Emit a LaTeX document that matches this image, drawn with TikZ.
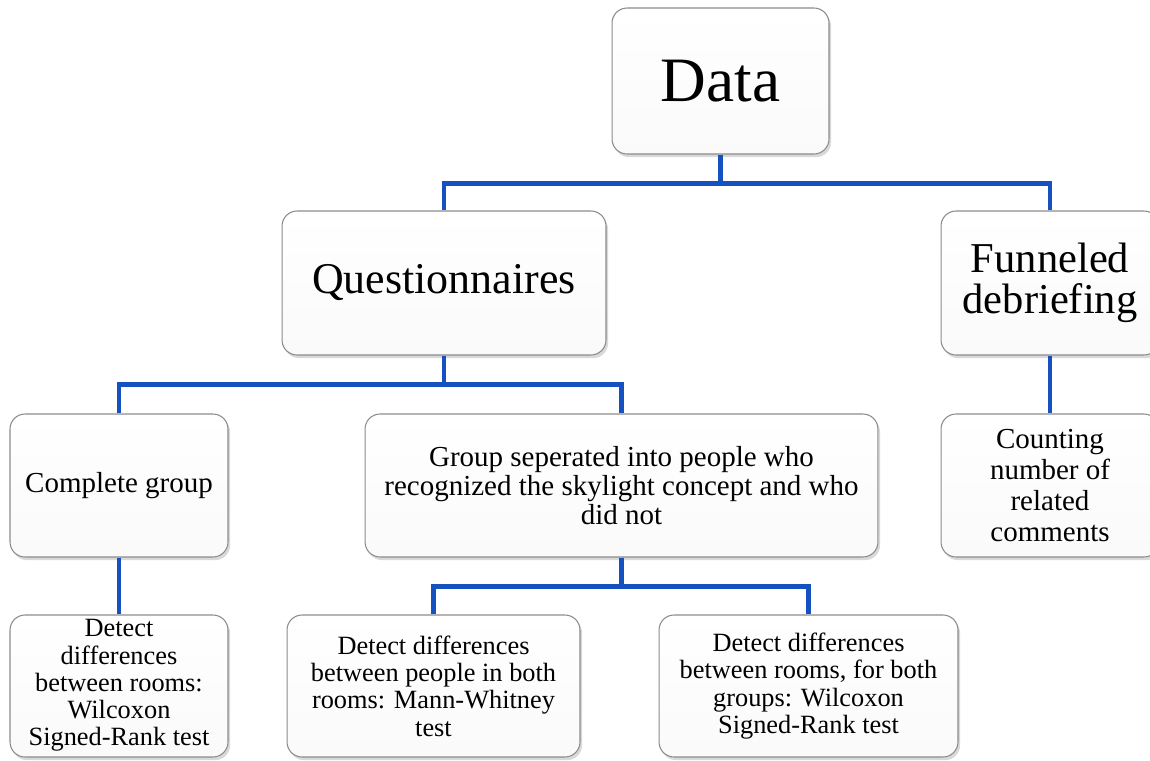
\documentclass[tikz,border=0pt]{standalone}
\usepackage{fontspec}
\setmainfont{Liberation Serif}
\usetikzlibrary{shadows}
\definecolor{connblue}{HTML}{1552BF}
\definecolor{boxborder}{HTML}{8C8C8C}
\begin{document}
\begin{tikzpicture}[x=0.02cm,y=-0.02cm,
  box/.style={draw=boxborder,line width=0.6pt,rounded corners=0.3cm,
    top color=white,bottom color=gray!4,align=center,inner sep=2pt,
    drop shadow={shadow xshift=1.2pt,shadow yshift=-1.8pt,opacity=0.3,fill=gray}},
  conn/.style={draw=connblue,line width=2.8pt},
  fbig/.style={font=\fontsize{36}{40}\selectfont},
  fmid/.style={font=\fontsize{25}{27}\selectfont},
  ffun/.style={font=\fontsize{24.2}{23.3}\selectfont},
  fsm/.style={font=\fontsize{16.5}{16.5}\selectfont},
  fcnt/.style={font=\fontsize{16.5}{17.6}\selectfont},
  fbot/.style={font=\fontsize{15}{15.5}\selectfont}]
\useasboundingbox (0,0) rectangle (1150,761);
\node[box,fbig,minimum width=4.34cm,minimum height=2.92cm] (data) at (720.5,81) {Data};
\node[box,fmid,minimum width=6.48cm,minimum height=2.88cm] (quest) at (444,283) {Questionnaires};
\node[box,ffun,minimum width=4.36cm,minimum height=2.88cm] (fun) at (1050,283) {Funneled\\debriefing};
\node[box,fsm,minimum width=4.36cm,minimum height=2.86cm] (cg) at (119,485.5) {Complete group};
\node[box,fsm,minimum width=10.26cm,minimum height=2.86cm] (gs) at (621.5,485.5) {Group seperated into people who\\recognized the skylight concept and who\\did not};
\node[box,fcnt,minimum width=4.36cm,minimum height=2.86cm] (cnt) at (1050,485.5) {Counting\\number of\\related\\comments};
\node[box,fbot,minimum width=4.36cm,minimum height=2.84cm,inner sep=0pt] (d1) at (119,686) {\raisebox{-2pt}{\begin{tabular}{@{}c@{}}Detect\\differences\\between rooms:\\Wilcoxon\\Signed-Rank test\end{tabular}}};
\node[box,fbot,minimum width=5.86cm,minimum height=2.84cm] (mw) at (433.5,686) {Detect differences\\between people in both\\rooms: Mann-Whitney\\test};
\node[box,fbot,minimum width=5.98cm,minimum height=2.84cm] (wx) at (808.5,686) {Detect differences\\between rooms, for both\\groups: Wilcoxon\\Signed-Rank test};
\draw[conn] (data.south) -- ++(0,29) -| (quest.north);
\draw[conn] (data.south) -- ++(0,29) -| (fun.north);
\draw[conn] (quest.south) -- ++(0,29) -| (cg.north);
\draw[conn] (quest.south) -- ++(0,29) -| (gs.north);
\draw[conn] (fun.south) -- (cnt.north);
\draw[conn] (cg.south) -- (d1.north);
\draw[conn] (gs.south) -- ++(0,29) -| (mw.north);
\draw[conn] (gs.south) -- ++(0,29) -| (wx.north);
\end{tikzpicture}
\end{document}
